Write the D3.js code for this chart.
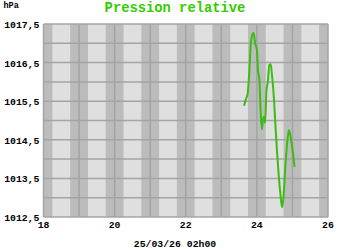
<!DOCTYPE html>
<html>
<head>
<meta charset="utf-8">
<script src="https://cdn.jsdelivr.net/npm/d3@7"></script>
<style>
  body { margin: 0; background: #fff; }
  text { font-family: "Liberation Mono", "DejaVu Sans Mono", monospace; font-weight: bold; }
</style>
</head>
<body>
<svg id="viz" width="350" height="250"></svg>
<script>
// Data (hours since midnight of day before, pressure in hPa)
const hours = [23.64, 23.69, 23.74, 23.79, 23.83, 23.89, 23.91, 23.95, 24.00, 24.03,
               24.07, 24.10, 24.14, 24.17, 24.20, 24.23, 24.27, 24.31, 24.35, 24.39,
               24.42, 24.47, 24.53, 24.57, 24.61, 24.66, 24.71, 24.75, 24.80, 24.86,
               24.90, 24.94, 24.99, 25.06];
const pressure = [1015.38, 1015.55, 1015.69, 1016.31, 1017.0, 1017.26, 1017.27, 1017.0, 1016.83, 1016.31,
                  1016.06, 1015.36, 1014.77, 1015.01, 1015.10, 1014.94, 1015.79, 1016.01, 1016.44, 1016.46,
                  1016.22, 1015.70, 1014.75, 1014.15, 1013.63, 1013.11, 1012.75, 1013.03, 1013.80, 1014.49,
                  1014.75, 1014.62, 1014.32, 1013.80];
const xTicks = [18, 20, 22, 24, 26];
const yTicks = [1012.5, 1013.5, 1014.5, 1015.5, 1016.5, 1017.5];
const title = 'Pression relative';
const unit = 'hPa';
const dateLabel = '25/03/26 02h00';

const svg = d3.select('#viz');
const margin = { top: 24, right: 22, bottom: 33, left: 43.5 };
const width  = 350 - margin.left - margin.right;
const height = 250 - margin.top - margin.bottom;
const g = svg.append('g').attr('transform', `translate(${margin.left},${margin.top})`);

const x = d3.scaleLinear().domain([18, 26]).range([0, width]);
const y = d3.scaleLinear().domain([1012.5, 1017.5]).range([height, 0]);

// light background
g.append('rect').attr('width', width).attr('height', height).attr('fill', '#dfdfdf');

// dark bands around each hour
const hoursAll = d3.range(18, 27);
g.selectAll('.band')
  .data(hoursAll)
  .join('rect')
    .attr('class', 'band')
    .attr('x', d => x(Math.max(18, d - 0.25)))
    .attr('width', d => x(Math.min(26, d + 0.25)) - x(Math.max(18, d - 0.25)))
    .attr('y', 0)
    .attr('height', height)
    .attr('fill', '#bcbcbc');

// grid lines
g.selectAll('.vgrid')
  .data(hoursAll)
  .join('line')
    .attr('x1', d => x(d)).attr('x2', d => x(d))
    .attr('y1', 0).attr('y2', height)
    .attr('stroke', '#a4a4a4').attr('stroke-width', 1.5);

g.selectAll('.hgrid')
  .data(d3.range(1012.5, 1017.51, 0.5))
  .join('line')
    .attr('x1', 0).attr('x2', width)
    .attr('y1', d => y(d)).attr('y2', d => y(d))
    .attr('stroke', '#a4a4a4').attr('stroke-width', 1.5);

// axes labels
g.selectAll('.ylab')
  .data(yTicks)
  .join('text')
    .attr('x', -4)
    .attr('y', d => y(d) + 4)
    .attr('text-anchor', 'end')
    .attr('font-size', 9.8)
    .attr('fill', '#000')
    .text(d => d3.format('.1f')(d).replace('.', ','));

g.selectAll('.xlab')
  .data(xTicks)
  .join('text')
    .attr('x', d => x(d))
    .attr('y', height + 11)
    .attr('text-anchor', 'middle')
    .attr('font-size', 9.8)
    .attr('fill', '#000')
    .text(d => d);

// line
const line = d3.line().x((d, i) => x(hours[i])).y(d => y(d)).curve(d3.curveMonotoneX);
g.append('path')
  .datum(pressure)
  .attr('d', line)
  .attr('fill', 'none')
  .attr('stroke', '#3cbb14')
  .attr('stroke-width', 2);

// titles
svg.append('text')
  .attr('x', 175).attr('y', 11.5)
  .attr('text-anchor', 'middle')
  .attr('font-size', 13.8)
  .attr('fill', '#33cc00')
  .text(title);

svg.append('text')
  .attr('x', 3.5).attr('y', 8)
  .attr('font-size', 8.5)
  .attr('fill', '#000')
  .text(unit);

svg.append('text')
  .attr('x', 175).attr('y', 247)
  .attr('text-anchor', 'middle')
  .attr('font-size', 9.8)
  .attr('fill', '#000')
  .text(dateLabel);
</script>
</body>
</html>
